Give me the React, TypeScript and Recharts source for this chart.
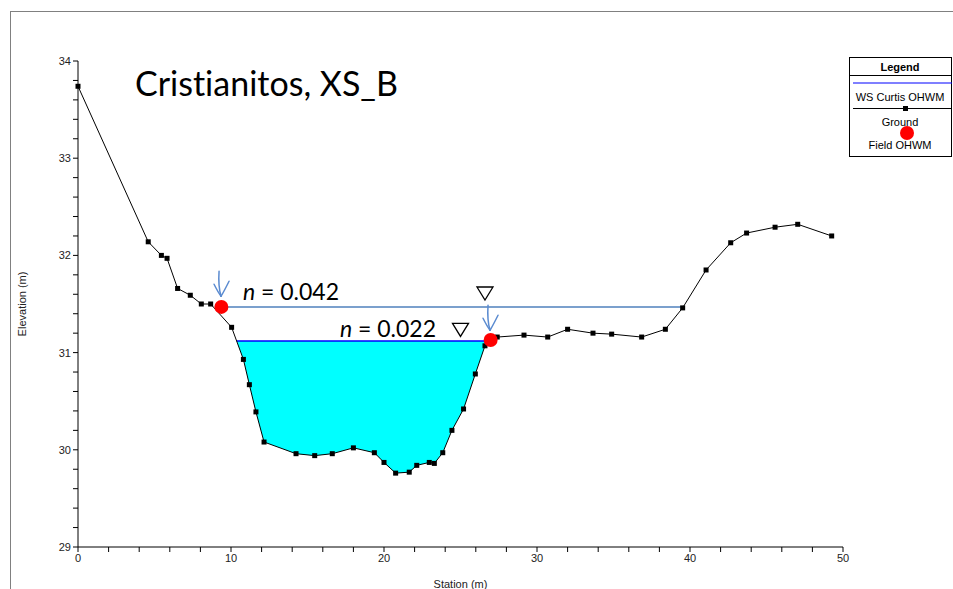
import React from 'react';
import {
  ComposedChart,
  Line,
  Area,
  XAxis,
  YAxis,
  ReferenceDot,
} from 'recharts';

// ground survey points (station m, elevation m)
const groundStations = [
  0, 4.59, 5.45, 5.82, 6.51, 7.34, 8.06, 8.67, 10.04, 10.81, 11.2, 11.63, 12.16, 14.25, 15.47,
  16.62, 18.0, 19.37, 20.0, 20.76, 21.65, 22.14, 22.96, 23.29, 23.84, 24.44, 25.2, 25.97, 26.6,
  27.4, 29.15, 30.7, 32.0, 33.66, 34.88, 36.84, 38.39, 39.52, 41.05, 42.66, 43.7, 45.56, 47.04,
  49.26,
];
const groundElev = [
  33.74, 32.14, 32.0, 31.97, 31.66, 31.59, 31.5, 31.5, 31.26, 30.93, 30.67, 30.39, 30.08, 29.96,
  29.94, 29.96, 30.02, 29.97, 29.87, 29.76, 29.77, 29.84, 29.87, 29.86, 29.97, 30.2, 30.42, 30.78,
  31.07, 31.16, 31.18, 31.16, 31.24, 31.2, 31.19, 31.16, 31.24, 31.46, 31.85, 32.13, 32.23, 32.29,
  32.32, 32.2,
];

// water surfaces
const wsUpper = 31.47; // n = 0.042
const wsUpperStations = [9.37, 39.52];
const wsLower = 31.12; // n = 0.022 (WS Curtis OHWM)
const wsLowerStations = [10.37, 26.97];

// field OHWM points
const ohwmStations = [9.37, 26.97];
const ohwmElev = [31.47, 31.13];

const stationTicks = [0, 2, 4, 6, 8, 10, 12, 14, 16, 18, 20, 22, 24, 26, 28, 30, 32, 34, 36, 38, 40, 42, 44, 46, 48, 50];
const elevTicks = [
  29, 29.2, 29.4, 29.6, 29.8, 30, 30.2, 30.4, 30.6, 30.8, 31, 31.2, 31.4, 31.6, 31.8, 32, 32.2,
  32.4, 32.6, 32.8, 33, 33.2, 33.4, 33.6, 33.8, 34,
];

const ground = groundStations.map((s, i) => ({ station: s, elev: groundElev[i] }));
const wetted = [
  { station: wsLowerStations[0], elev: wsLower },
  ...ground.filter((d) => d.station > wsLowerStations[0] && d.station < wsLowerStations[1]),
  { station: wsLowerStations[1], elev: wsLower },
];
const upperLine = wsUpperStations.map((s) => ({ station: s, elev: wsUpper }));
const lowerLine = wsLowerStations.map((s) => ({ station: s, elev: wsLower }));
const ohwm = ohwmStations.map((s, i) => ({ station: s, elev: ohwmElev[i] }));

const ARROW = '#5b8bd0';
const FONT = '"Liberation Sans", Arial, sans-serif';

const Triangle = (p: any) => (
  <polygon
    points={`${p.cx - 8},${p.cy} ${p.cx + 8},${p.cy} ${p.cx},${p.cy + 13}`}
    fill="none"
    stroke="#000"
    strokeWidth={1.3}
  />
);

const Arrow = (p: any) => (
  <g stroke={ARROW} strokeWidth={1.5} fill="none" strokeLinecap="round">
    <path d={`M${p.cx - 2},${p.cy - 25} Q${p.cx - 3},${p.cy - 10} ${p.cx},${p.cy}`} />
    <path d={`M${p.cx - 7},${p.cy - 12} Q${p.cx - 3},${p.cy - 4} ${p.cx},${p.cy}`} />
    <path d={`M${p.cx + 8},${p.cy - 15} Q${p.cx + 3},${p.cy - 5} ${p.cx},${p.cy}`} />
  </g>
);

const nLabel = (value: string) => (p: any) => (
  <text x={p.cx} y={p.cy} fontFamily="Lato, sans-serif" fontSize={23} fill="#000">
    <tspan fontStyle="italic">n</tspan>
    {` = ${value}`}
  </text>
);

const squareDot = (p: any) => (
  <rect key={`g-${p.index}`} x={p.cx - 2.5} y={p.cy - 2.5} width={5} height={5} fill="#000" />
);

const redDot = (p: any) => <circle key={`o-${p.index}`} cx={p.cx} cy={p.cy} r={7} fill="#ff0000" />;

const LegendBox = () => (
  <svg width={103} height={100} style={{ display: 'block' }}>
    <rect x={0.5} y={0.5} width={102} height={99} fill="#fff" stroke="#000" />
    <text x={51} y={14} textAnchor="middle" fontFamily={FONT} fontWeight="bold" fontSize={11}>
      Legend
    </text>
    <line x1={0} x2={103} y1={18.5} y2={18.5} stroke="#000" />
    <line x1={4} x2={103} y1={26} y2={26} stroke="#0000ff" strokeWidth={1.2} />
    <text x={51} y={44} textAnchor="middle" fontFamily={FONT} fontSize={11}>
      WS Curtis OHWM
    </text>
    <line x1={4} x2={103} y1={51.5} y2={51.5} stroke="#000" />
    <rect x={54} y={49} width={5} height={5} fill="#000" />
    <text x={51} y={69} textAnchor="middle" fontFamily={FONT} fontSize={11}>
      Ground
    </text>
    <circle cx={58} cy={76} r={7} fill="#ff0000" />
    <text x={51} y={92} textAnchor="middle" fontFamily={FONT} fontSize={11}>
      Field OHWM
    </text>
  </svg>
);

export default function App() {
  return (
    <div style={{ position: 'absolute', left: 0, top: 0, width: 953, height: 589, background: '#fff', overflow: 'hidden' }}>
      <div
        style={{
          position: 'absolute',
          left: 10,
          top: 11,
          right: 0,
          bottom: 0,
          borderLeft: '1px solid #808080',
          borderTop: '1px solid #808080',
        }}
      />
      <ComposedChart
        width={953}
        height={589}
        margin={{ top: 61, right: 110, bottom: 0, left: 0 }}
        style={{ position: 'absolute', left: 0, top: 0 }}
      >
        <XAxis
          dataKey="station"
          type="number"
          domain={[0, 50]}
          ticks={stationTicks}
          interval={0}
          tickFormatter={(v: number) => (v % 10 === 0 ? String(v) : '')}
          tickSize={5}
          height={42}
          stroke="#000"
          tick={{ fill: '#222', fontSize: 11, fontFamily: FONT }}
          label={{ value: 'Station (m)', position: 'insideBottom', offset: 1, fill: '#222', fontSize: 11, fontFamily: FONT }}
        />
        <YAxis
          type="number"
          domain={[29, 34]}
          ticks={elevTicks}
          interval={0}
          tickFormatter={(v: number) => (Number.isInteger(v) ? String(v) : '')}
          tickSize={5}
          width={78}
          stroke="#000"
          tick={{ fill: '#222', fontSize: 11, fontFamily: FONT }}
          label={{
            value: 'Elevation (m)',
            angle: -90,
            position: 'insideLeft',
            offset: 22,
            fill: '#222',
            fontSize: 11,
            fontFamily: FONT,
            style: { textAnchor: 'middle' },
          }}
        />
        <Area
          data={wetted}
          dataKey={(d: any) => [d.elev, wsLower]}
          type="linear"
          fill="#00ffff"
          fillOpacity={1}
          stroke="none"
          isAnimationActive={false}
        />
        <Line
          data={upperLine}
          dataKey="elev"
          type="linear"
          stroke="#4f81bd"
          strokeWidth={1.5}
          dot={false}
          isAnimationActive={false}
        />
        <Line
          data={lowerLine}
          dataKey="elev"
          type="linear"
          stroke="#0000ff"
          strokeWidth={1.5}
          dot={false}
          isAnimationActive={false}
        />
        <Line
          data={ground}
          dataKey="elev"
          type="linear"
          stroke="#000"
          strokeWidth={1}
          dot={squareDot}
          activeDot={false}
          isAnimationActive={false}
        />
        <Line
          data={ohwm}
          dataKey="elev"
          type="linear"
          stroke="none"
          dot={redDot}
          activeDot={false}
          isAnimationActive={false}
        />
        <ReferenceDot x={3.73} y={33.64} r={0} shape={(p: any) => (
          <text
            x={p.cx}
            y={p.cy}
            fontFamily="Lato, sans-serif"
            fontSize={34}
            fill="#000"
            style={{ fontVariantLigatures: 'none' }}
          >
            Cristianitos, XS_B
          </text>
        )} />
        <ReferenceDot x={10.78} y={31.54} r={0} shape={nLabel('0.042')} />
        <ReferenceDot x={17.12} y={31.16} r={0} shape={nLabel('0.022')} />
        <ReferenceDot x={26.6} y={31.675} r={0} shape={Triangle} />
        <ReferenceDot x={25.0} y={31.3} r={0} shape={Triangle} />
        <ReferenceDot x={9.35} y={31.58} r={0} shape={Arrow} />
        <ReferenceDot x={26.93} y={31.23} r={0} shape={Arrow} />
      </ComposedChart>
      <div style={{ position: 'absolute', left: 849, top: 57 }}>
        <LegendBox />
      </div>
    </div>
  );
}
